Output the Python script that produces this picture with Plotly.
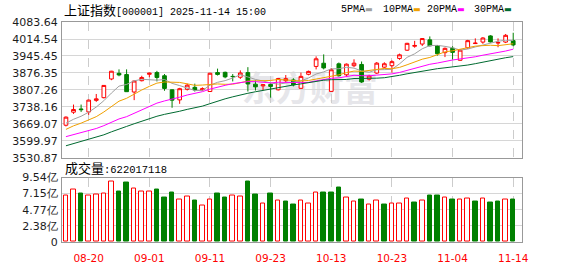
import plotly.graph_objects as go
import pandas as pd

dates = ["08-15","08-18","08-19","08-20","08-21","08-22","08-25","08-26","08-27","08-28","08-29",
         "09-01","09-02","09-03","09-04","09-05","09-08","09-09","09-10","09-11","09-12",
         "09-15","09-16","09-17","09-18","09-19","09-22","09-23","09-24","09-25","09-26",
         "09-29","09-30","10-09","10-10","10-13","10-14","10-15","10-16","10-17","10-20",
         "10-21","10-22","10-23","10-24","10-27","10-28","10-29","10-30","10-31",
         "11-03","11-04","11-05","11-06","11-07","11-10","11-11","11-12","11-13","11-14"]

opens  = [3664,3717,3730,3718,3765,3776,3852,3875,3870,3799,3845,
          3871,3878,3865,3808,3767,3810,3818,3808,3801,3878,
          3879,3862.5,3859,3878,3831,3824,3830,3808,3845,3848,
          3814,3871,3903,3916,3801.5,3913.6,3869,3906,3911,3851,
          3876,3900,3906,3935.5,3969,3985,3994,4011,3988,
          3959,3977,3928,3979,3996,4002,4027,3998,4002,4008]
highs  = [3700,3748,3748,3768,3791,3827,3885,3891,3891,3845,3865,
          3878,3885,3872,3810,3816,3833,3833,3818,3877,3894,
          3882,3872,3887,3900,3846,3831,3834,3856,3868,3855,
          3878,3886,3944,3952,3897,3919,3915,3932,3923,3869,
          3921,3920,3928,3955,3999,4007,4018,4025,3990,
          3980,3985,3972,4011,4017,4022,4030,4017,4035,4040]
lows   = [3659,3710,3718,3706,3759,3773,3847,3863,3800,3766,3842,
          3859,3842,3804,3735,3751,3805,3801,3803,3800,3866,
          3855,3842,3852,3801,3805,3805,3776,3805,3838,3822,
          3812,3867,3891,3891,3800,3862,3862,3900,3836,3846,
          3872,3895,3878,3930,3966,3979,3986,3985,3947,
          3941,3931,3926,3975,3994,3995,4000,3981,3998,3985]
closes = [3696.77,3728.03,3727.29,3766.21,3771.10,3825.76,3883.56,3868.38,3800.35,3843.60,3857.93,
          3875.53,3858.13,3813.56,3765.88,3812.51,3826.84,3807.29,3812.22,3875.31,3870.60,
          3860.50,3861.87,3876.34,3831.66,3820.09,3828.58,3821.83,3853.64,3853.30,3828.11,
          3862.53,3882.78,3933.97,3897.03,3889.50,3865.23,3912.21,3916.23,3839.76,3863.89,
          3916.33,3913.76,3922.41,3950.31,3996.94,3988.22,4016.33,3986.90,3954.79,
          3976.52,3960.19,3969.25,4007.76,3997.56,4018.60,4002.76,4000.14,4029.50,3990.49]
# volumes in 亿
volumes = [6.87,7.80,7.18,6.87,7.00,7.14,8.95,7.42,8.80,7.93,7.52,
           7.52,7.70,6.59,7.28,6.27,6.68,6.17,5.43,6.27,7.14,
           6.59,6.82,6.68,8.99,7.00,5.76,7.14,6.13,6.03,5.62,
           6.13,5.76,7.38,7.28,7.28,8.11,6.54,5.99,6.31,5.57,
           6.13,5.48,5.76,5.76,6.40,5.90,6.13,6.87,6.87,
           6.54,6.31,6.31,6.40,6.03,6.40,5.90,6.03,6.31,6.22]
# closes of the 29 sessions before the first shown day (for the moving averages)
prior_closes = [3473.13,3497.48,3493.05,3509.68,3510.18,3519.65,3505.00,3503.78,3516.83,3534.48,
                3559.79,3581.86,3582.30,3605.73,3593.66,3597.94,3609.71,3615.72,3573.21,
                3559.95,3583.31,3617.60,3633.99,3639.67,3635.13,3647.55,3665.92,3683.46,3666.44]

price_ticks = ["3530.87","3599.97","3669.07","3738.16","3807.26","3876.35","3945.45","4014.54","4083.64"]
vol_ticks = [0, 2.385, 4.77, 7.155, 9.54]
vol_tick_labels = ["0", "2.38亿", "4.77亿", "7.15亿", "9.54亿"]
date_ticks = ["08-20","09-01","09-11","09-23","10-13","10-23","11-04","11-14"]

ma_specs = [(5, "5PMA", "#a0a0a0"), (10, "10PMA", "#f0a000"), (20, "20PMA", "#ff00ff"), (30, "30PMA", "#006a30")]

n = len(dates)
idx = list(range(n))
allc = pd.Series(prior_closes + closes)
prev = [prior_closes[-1]] + closes[:-1]
up = [c >= p for c, p in zip(closes, prev)]
RED, GREEN = "#ff0000", "#008000"

fig = go.Figure()
for w, name, col in ma_specs:
    ma = allc.rolling(w).mean().iloc[len(prior_closes):].tolist()
    fig.add_trace(go.Scatter(x=idx, y=ma, mode="lines", line=dict(color=col, width=1),
                             hoverinfo="skip", showlegend=False, xaxis="x", yaxis="y"))
fig.add_trace(go.Candlestick(x=idx, open=opens, high=highs, low=lows, close=closes,
                             increasing=dict(line=dict(color=RED, width=1), fillcolor="#ffffff"),
                             decreasing=dict(line=dict(color=GREEN, width=1), fillcolor=GREEN),
                             whiskerwidth=0, hoverinfo="skip", showlegend=False, xaxis="x", yaxis="y"))
fig.add_trace(go.Bar(x=idx, y=volumes, width=0.6,
                     marker=dict(color=["#ffffff" if u else GREEN for u in up],
                                 line=dict(color=[RED if u else GREEN for u in up], width=1)),
                     hoverinfo="skip", showlegend=False, xaxis="x2", yaxis="y2"))

tickpos = [dates.index(d) for d in date_ticks]
xr = [-0.52, 60.16]
pv = [float(s) for s in price_ticks]
BORDER = "#999999"
axfont = dict(family="DejaVu Sans", size=11, color="#1c1c1c")

common_x = dict(range=xr, tickvals=tickpos, showgrid=True, gridcolor="#cccccc", griddash="dash",
                gridwidth=1, showline=True, mirror=True, linecolor=BORDER, linewidth=1, zeroline=False,
                fixedrange=True)
fig.update_layout(
    width=578, height=276, margin=dict(l=56, r=56, t=22, b=21),
    paper_bgcolor="white", plot_bgcolor="white", hovermode=False, showlegend=False,
    bargap=0,
    xaxis=dict(domain=[0, 1], anchor="y", showticklabels=False, rangeslider=dict(visible=False), **common_x),
    yaxis=dict(domain=[0.382, 1], anchor="x", range=[pv[0] - 0.01, pv[-1] + 0.01], tickvals=pv,
               ticktext=price_ticks, showgrid=True, gridcolor="#d6d6d6", showline=True, mirror=True,
               linecolor=BORDER, zeroline=False, tickfont=axfont, ticks="outside", ticklen=1,
               tickcolor="rgba(0,0,0,0)", fixedrange=True),
    xaxis2=dict(domain=[0, 1], anchor="y2", ticktext=date_ticks, showticklabels=True,
                tickfont=dict(family="DejaVu Sans", size=10.5, color=RED), ticks="outside", ticklen=6,
                tickcolor="rgba(0,0,0,0)", **common_x),
    yaxis2=dict(domain=[0, 0.2931], anchor="x2", range=[-0.001, 9.541], tickvals=vol_ticks,
                ticktext=vol_tick_labels, showgrid=True, gridcolor="#d6d6d6", showline=True, mirror=True,
                linecolor=BORDER, zeroline=False, tickfont=axfont, ticks="outside", ticklen=1,
                tickcolor="rgba(0,0,0,0)", fixedrange=True),
)

def px(xp):
    return (xp - 56) / 466.0

def py(yp):
    return (255 - yp) / 233.0

ann = []
ann.append(dict(xref="paper", yref="paper", x=px(56), y=py(8.5), xanchor="left", yanchor="middle",
                showarrow=False,
                text='<span style="font-family:Noto Sans CJK SC;font-size:13px">上证指数</span>'
                     '<span style="font-family:Liberation Mono;font-size:10px">[000001] 2025-11-14 15:00</span>',
                font=dict(family="Liberation Mono", size=10, color="#000000")))
leg_x = [337, 379, 424, 471]
for (w, name, col), lx in zip(ma_specs, leg_x):
    ann.append(dict(xref="paper", yref="paper", x=px(lx), y=py(8.5), xanchor="left", yanchor="middle",
                    showarrow=False,
                    text=name + '<span style="color:%s;font-family:DejaVu Sans;font-size:8px">▬</span>' % col,
                    font=dict(family="Liberation Mono", size=10, color="#000000")))
ann.append(dict(xref="paper", yref="paper", x=px(57), y=py(176.5), xanchor="left", yanchor="middle",
                showarrow=False,
                text='<span style="font-family:Noto Sans CJK SC;font-size:13px">成交量</span>'
                     '<span style="font-family:Liberation Mono;font-size:10.5px">:622017118</span>',
                font=dict(family="Liberation Mono", size=10, color="#000000")))
fig.update_layout(annotations=ann)

fig.add_shape(type="rect", xref="paper", yref="paper", x0=px(215), x1=px(382), y0=py(114), y1=py(78),
              line=dict(width=0), fillcolor="rgba(0,0,0,0)", layer="below",
              label=dict(text="东方财富", textposition="middle right",
                         font=dict(family="Noto Sans CJK SC", size=34, color="#e6e6ea", weight="bold")))

fig.write_html("out.html")
